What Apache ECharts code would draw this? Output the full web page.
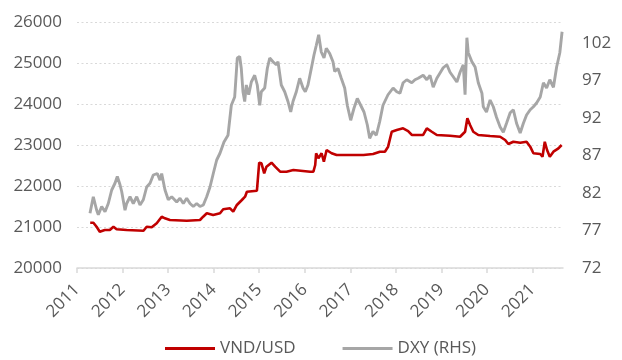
<!DOCTYPE html>
<html>
<head>
<meta charset="utf-8">
<script src="https://cdn.jsdelivr.net/npm/echarts@6/dist/echarts.min.js"></script>
<style>html,body{margin:0;padding:0;background:#fff}#c{width:622px;height:360px}</style>
</head>
<body>
<div id="c"></div>
<script>
const yearTicks = [2011,2012,2013,2014,2015,2016,2017,2018,2019,2020,2021];
const vndTicks = [20000,21000,22000,23000,24000,25000,26000];
const dxyTicks = [72,77,82,87,92,97,102];

const dxyYears = [2011.285,2011.358,2011.395,2011.432,2011.468,2011.542,2011.615,2011.687,2011.762,2011.834,2011.885,2011.944,2011.981,2012.054,2012.091,2012.164,2012.236,2012.311,2012.383,2012.456,2012.530,2012.603,2012.675,2012.763,2012.822,2012.859,2012.932,2013.004,2013.079,2013.189,2013.261,2013.334,2013.408,2013.481,2013.553,2013.628,2013.700,2013.773,2013.847,2013.920,2013.992,2014.067,2014.139,2014.227,2014.315,2014.388,2014.462,2014.519,2014.572,2014.607,2014.644,2014.682,2014.717,2014.770,2014.827,2014.901,2014.958,2015.011,2015.046,2015.121,2015.178,2015.231,2015.303,2015.375,2015.413,2015.485,2015.560,2015.632,2015.692,2015.742,2015.815,2015.889,2015.962,2016.012,2016.071,2016.144,2016.203,2016.254,2016.306,2016.363,2016.423,2016.473,2016.548,2016.620,2016.658,2016.730,2016.802,2016.877,2016.934,2017.009,2017.081,2017.154,2017.228,2017.301,2017.373,2017.426,2017.498,2017.571,2017.645,2017.718,2017.828,2017.94,2018.02,2018.09,2018.16,2018.24,2018.35,2018.42,2018.49,2018.60,2018.68,2018.75,2018.82,2018.90,2018.97,2019.04,2019.12,2019.19,2019.26,2019.34,2019.41,2019.48,2019.52,2019.56,2019.59,2019.67,2019.74,2019.81,2019.89,2019.92,2019.99,2020.07,2020.14,2020.21,2020.29,2020.36,2020.43,2020.51,2020.58,2020.65,2020.73,2020.80,2020.87,2020.95,2021.02,2021.09,2021.17,2021.24,2021.31,2021.38,2021.46,2021.53,2021.60,2021.65];
const dxyValues = [79.3,81.5,81.7,79.7,79.1,80.2,79.5,80.6,82.4,83.3,84.2,83.1,82.2,79.7,80.6,81.5,80.6,81.5,80.4,81.1,82.8,83.3,84.4,84.6,83.7,84.6,82.4,81.1,81.5,80.8,81.3,80.6,81.3,80.6,80.2,80.6,80.2,80.4,81.5,82.8,84.6,86.4,87.3,88.8,89.7,93.7,94.8,100.0,100.2,98.6,95.5,94.2,96.4,95.1,96.8,97.7,96.4,93.7,95.5,96.0,98.6,100.0,99.5,99.1,99.5,96.4,95.5,94.2,92.8,94.2,95.5,97.3,96.0,95.5,96.4,98.6,100.4,101.7,103.1,100.8,100.0,101.3,100.6,99.5,98.2,98.6,97.3,96.0,93.7,91.7,93.3,94.6,93.7,92.8,91.1,89.3,90.2,89.7,91.5,93.7,95.1,96.0,95.5,95.3,96.7,97.1,96.7,97.1,97.3,97.7,97.1,97.7,96.1,97.3,98.0,98.7,99.1,98.1,97.5,96.8,98.1,99.1,95.1,102.7,100.7,99.5,98.8,96.7,95.3,93.5,92.8,94.4,93.5,92.1,90.8,90.1,91.3,92.7,93.1,91.3,90.0,91.3,92.4,93.1,93.5,94.0,94.8,96.7,96.0,97.1,96.1,98.8,100.7,103.5];

const vndYears = [2011.29,2011.36,2011.43,2011.50,2011.61,2011.72,2011.80,2011.87,2012.09,2012.46,2012.53,2012.64,2012.75,2012.86,2012.93,2013.04,2013.41,2013.70,2013.77,2013.85,2013.99,2014.14,2014.21,2014.36,2014.43,2014.51,2014.62,2014.69,2014.73,2014.95,2014.97,2015.00,2015.05,2015.11,2015.16,2015.27,2015.35,2015.46,2015.60,2015.75,2016.12,2016.19,2016.23,2016.25,2016.30,2016.37,2016.42,2016.48,2016.59,2016.70,2016.99,2017.29,2017.50,2017.65,2017.76,2017.83,2017.91,2018.02,2018.16,2018.27,2018.35,2018.60,2018.68,2018.79,2018.90,2019.19,2019.41,2019.52,2019.57,2019.63,2019.70,2019.81,2020.07,2020.29,2020.40,2020.47,2020.58,2020.73,2020.87,2020.95,2021.02,2021.17,2021.22,2021.27,2021.32,2021.38,2021.46,2021.57,2021.64];
const vndValues = [21105,21105,21007,20885,20927,20927,21007,20944,20927,20910,21007,20993,21090,21251,21212,21171,21154,21171,21251,21334,21293,21334,21432,21456,21373,21537,21659,21739,21861,21885,21900,22568,22554,22310,22471,22568,22471,22349,22349,22390,22349,22349,22512,22798,22676,22798,22593,22878,22798,22756,22756,22756,22780,22837,22837,22959,23324,23366,23407,23341,23244,23244,23407,23324,23244,23227,23202,23324,23651,23488,23324,23244,23220,23202,23122,23024,23080,23056,23080,22959,22798,22780,22715,23080,22878,22715,22837,22919,23000];

const FONT = 'Open Sans';
const LABEL = '#595959';
const AXIS = '#d9d9d9';

const chart = echarts.init(document.getElementById('c'), null, {renderer: 'canvas'});
chart.setOption({
  animation: false,
  backgroundColor: '#fff',
  textStyle: {fontFamily: FONT},
  grid: {left: 77, right: 59, top: 22, bottom: 92, containLabel: false},
  legend: {
    left: 160, top: 335, itemGap: 47, itemWidth: 50, itemHeight: 3,
    icon: 'rect',
    textStyle: {fontSize: 17, color: LABEL, fontFamily: FONT},
    data: ['VND/USD', 'DXY (RHS)']
  },
  xAxis: {
    type: 'value', min: 2011, max: 2021.67,
    axisLine: {show: true, lineStyle: {color: AXIS, width: 1.5}},
    axisTick: {show: true, length: 5, lineStyle: {color: AXIS, width: 1.5}, customValues: yearTicks},
    axisLabel: {rotate: 45, fontSize: 17, color: LABEL, margin: 19, customValues: yearTicks, formatter: v => String(Math.round(v))},
    splitLine: {show: false}
  },
  yAxis: [
    {
      type: 'value', min: 20000, max: 26000, interval: 1000,
      axisLine: {show: false}, axisTick: {show: false},
      axisLabel: {fontSize: 17, color: LABEL, margin: 15, customValues: vndTicks, formatter: v => String(v)},
      splitLine: {show: true, lineStyle: {color: AXIS, type: [2, 2.5], width: 1.2}}
    },
    {
      type: 'value', min: 72, max: 104.8, position: 'right',
      axisLine: {show: false}, axisTick: {show: false},
      axisLabel: {fontSize: 17, color: LABEL, margin: 19, customValues: dxyTicks, formatter: v => String(v)},
      splitLine: {show: false}
    }
  ],
  series: [
    {
      name: 'VND/USD', type: 'line', yAxisIndex: 0, z: 3,
      showSymbol: false, symbol: 'none',
      lineStyle: {color: '#C00000', width: 2.6},
      itemStyle: {color: '#C00000'},
      data: vndYears.map((y, i) => [y, vndValues[i]])
    },
    {
      name: 'DXY (RHS)', type: 'line', yAxisIndex: 1, z: 2,
      showSymbol: false, symbol: 'none',
      lineStyle: {color: '#A6A6A6', width: 2.9},
      itemStyle: {color: '#A6A6A6'},
      data: dxyYears.map((y, i) => [y, dxyValues[i]])
    }
  ]
});
</script>
</body>
</html>
